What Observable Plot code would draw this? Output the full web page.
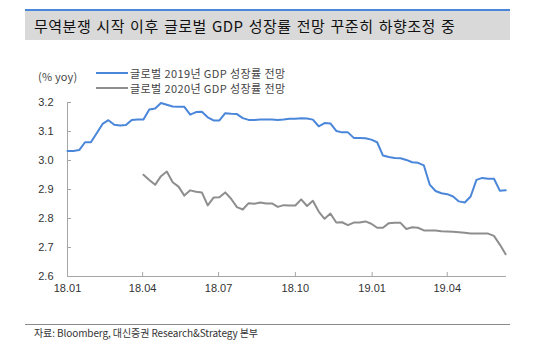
<!DOCTYPE html>
<html>
<head>
<meta charset="utf-8">
<script src="https://cdn.jsdelivr.net/npm/d3@7"></script>
<script src="https://cdn.jsdelivr.net/npm/@observablehq/plot@0.6"></script>
<style>
  body { margin: 0; background: #fff; }
  #wrap { position: relative; width: 540px; height: 354px; overflow: hidden; font-family: "Noto Sans CJK KR", "Noto Sans", sans-serif; }
  #title { position: absolute; left: 25px; top: 9px; width: 485px; height: 29px; background: #d9d9d9; border-top: 2px solid #4a86d9; box-sizing: content-box; }
  #title span { position: absolute; left: 9px; top: 0; line-height: 29px; font-size: 15px; color: #111; white-space: nowrap; letter-spacing: 0.5px; word-spacing: 1.3px; }
  .lbl { position: absolute; font-size: 11px; color: #444; white-space: nowrap; line-height: 12px; letter-spacing: 0.4px; }
  .sw { position: absolute; height: 2px; width: 32px; }
  #foot { position: absolute; left: 25px; top: 324px; width: 485px; height: 1px; background: #8a8a8a; }
  #cap { position: absolute; left: 34px; top: 326px; font-size: 10px; color: #333; line-height: 14px; white-space: nowrap; letter-spacing: -0.1px; }
  #chart { position: absolute; left: 0; top: 90px; }
</style>
</head>
<body>
<div id="wrap">
  <div id="title"><span>무역분쟁 시작 이후 글로벌 GDP 성장률 전망 꾸준히 하향조정 중</span></div>
  <div class="lbl" id="unit" style="left:38px; top:70px; letter-spacing:0.2px;"></div>
  <div class="sw" style="left:96px; top:72px; background:#4a86d9;"></div>
  <div class="lbl" id="leg1" style="left:130px; top:66.5px;"></div>
  <div class="sw" style="left:96px; top:86.5px; background:#8e8e8e;"></div>
  <div class="lbl" id="leg2" style="left:130px; top:81.5px;"></div>
  <div id="chart"></div>
  <div id="foot"></div>
  <div id="cap"></div>
</div>
<script>
// ---- data ----
const titleText = "무역분쟁 시작 이후 글로벌 GDP 성장률 전망 꾸준히 하향조정 중";
const unitLabel = "(% yoy)";
const seriesNames = ["글로벌 2019년 GDP 성장률 전망", "글로벌 2020년 GDP 성장률 전망"];
const sourceText = "자료: Bloomberg, 대신증권 Research&Strategy 본부";
const startDate = "2018-01-01"; // weekly observations
const endDate = "2019-06-11";
const forecast2019 = [
  3.033, 3.033, 3.036, 3.063, 3.063, 3.094, 3.126, 3.139, 3.123, 3.121,
  3.122, 3.140, 3.141, 3.141, 3.176, 3.179, 3.198, 3.192, 3.186, 3.185,
  3.185, 3.158, 3.167, 3.168, 3.149, 3.138, 3.138, 3.163, 3.161, 3.160,
  3.146, 3.140, 3.140, 3.141, 3.141, 3.141, 3.140, 3.141, 3.144, 3.144,
  3.146, 3.145, 3.141, 3.118, 3.129, 3.128, 3.102, 3.097, 3.097, 3.078,
  3.078, 3.077, 3.072, 3.063, 3.017, 3.012, 3.009, 3.008, 3.002, 2.994,
  2.992, 2.983, 2.917, 2.895, 2.887, 2.884, 2.876, 2.859, 2.855, 2.876,
  2.933, 2.940, 2.937, 2.937, 2.896, 2.897
];
const forecast2020 = [
  null, null, null, null, null, null, null, null, null, null,
  null, null, null, 2.951, 2.933, 2.916, 2.946, 2.962, 2.925, 2.910,
  2.879, 2.897, 2.892, 2.890, 2.845, 2.872, 2.873, 2.890, 2.868, 2.839,
  2.831, 2.853, 2.851, 2.855, 2.852, 2.852, 2.840, 2.846, 2.845, 2.845,
  2.866, 2.843, 2.861, 2.824, 2.799, 2.817, 2.786, 2.787, 2.777, 2.786,
  2.786, 2.790, 2.782, 2.768, 2.768, 2.784, 2.785, 2.785, 2.764, 2.770,
  2.768, 2.759, 2.759, 2.759, 2.756, 2.755, 2.754, 2.753, 2.751, 2.748,
  2.748, 2.748, 2.748, 2.740, 2.710, 2.677
];
const yTicks = [2.6, 2.7, 2.8, 2.9, 3.0, 3.1, 3.2];
const xTickDates = ["2018-01-01", "2018-04-01", "2018-07-01", "2018-10-01", "2019-01-01", "2019-04-01"];
const xTickLabels = ["18.01", "18.04", "18.07", "18.10", "19.01", "19.04"];

// ---- build ----
document.querySelector("#title span").textContent = titleText;
document.getElementById("unit").textContent = unitLabel;
document.getElementById("leg1").textContent = seriesNames[0];
document.getElementById("leg2").textContent = seriesNames[1];
document.getElementById("cap").textContent = sourceText;

const t0 = new Date(startDate);
const dates = forecast2019.map((_, i) => d3.utcDay.offset(t0, 7 * i));
const rows = dates.map((d, i) => ({date: d, a: forecast2019[i], b: forecast2020[i]}));
const xTicks = xTickDates.map(s => new Date(s));
const labelOf = new Map(xTicks.map((d, i) => [+d, xTickLabels[i]]));

const W = 540, H = 210, mL = 67, mR = 34, mT = 12, mB = 24;
const innerW = W - mL - mR, innerH = H - mT - mB;
const axisColor = "#a6a6a6";

const plot = Plot.plot({
  width: W, height: H,
  marginLeft: mL, marginRight: mR, marginTop: mT, marginBottom: mB,
  style: {fontFamily: "'Liberation Sans', Arial, sans-serif", fontSize: "11px", color: "#333", background: "transparent"},
  x: {type: "utc", domain: [new Date(startDate), new Date(endDate)]},
  y: {domain: [2.6, 3.2]},
  marks: [
    Plot.axisY({ticks: yTicks, tickSize: 0, tickPadding: 14, tickFormat: d3.format(".1f"), label: null, fontSize: 11}),
    Plot.axisX({ticks: xTicks, tickSize: 0, tickPadding: 8, tickFormat: d => labelOf.get(+d), label: null, fontSize: 11}),
    Plot.ruleY(yTicks, {y: d => d, stroke: axisColor, insetRight: innerW - 4}),
    Plot.ruleX(xTicks, {x: d => d, stroke: axisColor, insetTop: innerH - 4}),
    Plot.ruleX([new Date(startDate)], {stroke: axisColor}),
    Plot.ruleY([2.6], {stroke: axisColor}),
    Plot.lineY(rows, {x: "date", y: "b", stroke: "#8e8e8e", strokeWidth: 2, curve: "linear"}),
    Plot.lineY(rows, {x: "date", y: "a", stroke: "#4a86d9", strokeWidth: 2, curve: "linear"})
  ]
});
document.getElementById("chart").appendChild(plot);
</script>
</body>
</html>
